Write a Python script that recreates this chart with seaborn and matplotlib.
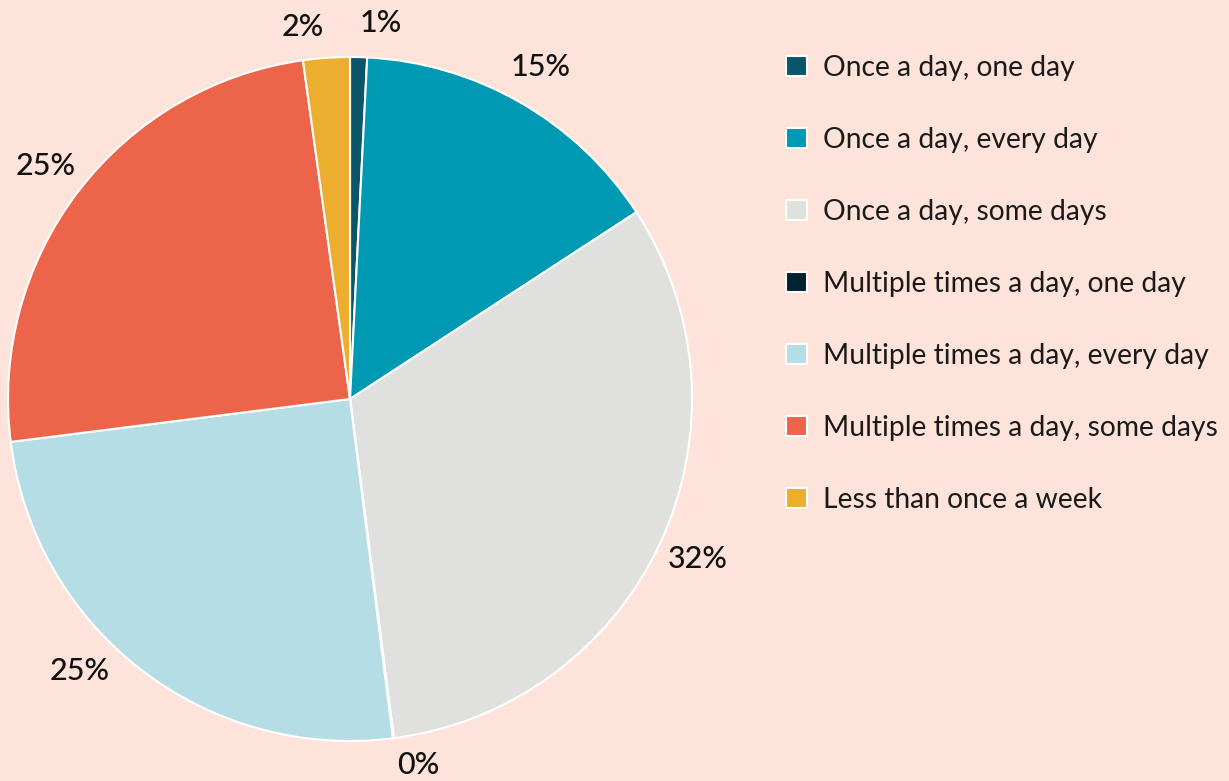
import matplotlib
matplotlib.use("Agg")
import numpy as np
import matplotlib.pyplot as plt
import seaborn as sns

# frequency categories and their shares (%)
categories = ["Once a day, one day", "Once a day, every day", "Once a day, some days",
              "Multiple times a day, one day", "Multiple times a day, every day",
              "Multiple times a day, some days", "Less than once a week"]
shares = [0.8, 15.0, 32.15, 0.05, 25.0, 24.8, 2.2]
colors = ["#0B5568", "#0099B4", "#E0E0DE", "#03222F", "#B5DDE5", "#EC654A", "#EBAE2E"]

bg = "#FDE3DA"
sns.set_theme(style="white")
plt.rcParams["font.family"] = ["Lato", "DejaVu Sans"]

fig = plt.figure(figsize=(12.29, 7.81), dpi=100, facecolor=bg)
ax = fig.add_axes([0.0065, 0.0512, 0.5566, 0.8758])
ax.set_facecolor(bg)

wedges, texts, autotexts = ax.pie(
    shares, colors=colors, startangle=90, counterclock=False,
    autopct="%.0f%%", pctdistance=1.12,
    wedgeprops=dict(edgecolor="white", linewidth=1.5),
    textprops=dict(fontsize=22, color="#111111", fontweight="medium"),
)
ax.set_xlim(-1, 1)
ax.set_ylim(-1, 1)
ax.set_aspect("equal")

# tweak a few labels so they don't crowd / fall off the canvas
autotexts[0].set_ha("left")
autotexts[0].set_y(autotexts[0].get_position()[1] - 0.02)
autotexts[-1].set_ha("right")
autotexts[-1].set_y(autotexts[-1].get_position()[1] - 0.03)
mid = np.deg2rad((wedges[3].theta1 + wedges[3].theta2) / 2)
autotexts[3].set_position((1.08 * np.cos(mid), 1.08 * np.sin(mid)))
autotexts[3].set_ha("left")
mid = np.deg2rad((wedges[4].theta1 + wedges[4].theta2) / 2 - 7)
autotexts[4].set_position((1.12 * np.cos(mid), 1.12 * np.sin(mid)))

fig.legend(wedges, categories, loc="upper left", bbox_to_anchor=(786 / 1229, 1 - 55 / 781),
           frameon=False, fontsize=20.3, handlelength=0.75, handleheight=0.75,
           handletextpad=0.55, labelspacing=1.63, borderpad=0, borderaxespad=0,
           labelcolor="#1a1a1a")

fig.savefig("out.png", dpi=100, facecolor=bg)
